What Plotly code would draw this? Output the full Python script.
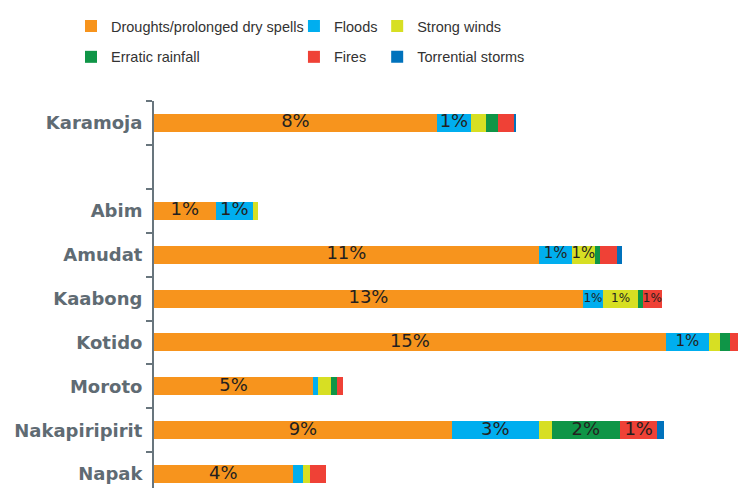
import numpy as np
import plotly.graph_objs as go

districts = ["Karamoja", " ", "Abim", "Amudat", "Kaabong", "Kotido", "Moroto", "Nakapiripirit", "Napak"]

droughts = [8.29, 0, 1.81, 11.28, 12.57, 15.00, 4.66, 8.73, 4.06]
floods = [1.00, 0, 1.09, 0.98, 0.59, 1.26, 0.16, 2.55, 0.32]
winds = [0.44, 0, 0.14, 0.65, 1.03, 0.32, 0.38, 0.37, 0.18]
erratic = [0.36, 0, 0, 0.16, 0.13, 0.30, 0.16, 2.01, 0]
fires = [0.45, 0, 0, 0.49, 0.57, 0.60, 0.19, 1.09, 0.49]
storms = [0.08, 0, 0, 0.17, 0, 0.10, 0, 0.19, 0]

droughts_lbl = ["8%", "", "1%", "11%", "13%", "15%", "5%", "9%", "4%"]
floods_lbl = ["1%", "", "1%", "1%", "1%", "1%", "", "3%", ""]
winds_lbl = ["", "", "", "1%", "1%", "", "", "", ""]
erratic_lbl = ["", "", "", "", "", "", "", "2%", ""]
fires_lbl = ["", "", "", "", "1%", "", "", "1%", ""]
storms_lbl = [""] * 9

series = [
    ("Droughts/prolonged dry spells", droughts, droughts_lbl, "#F7941D", "legend"),
    ("Floods", floods, floods_lbl, "#00AEEF", "legend2"),
    ("Strong winds", winds, winds_lbl, "#D7DF23", "legend3"),
    ("Erratic rainfall", erratic, erratic_lbl, "#0F9547", "legend"),
    ("Fires", fires, fires_lbl, "#EF4136", "legend2"),
    ("Torrential storms", storms, storms_lbl, "#0072BC", "legend3"),
]

# label sizes: smaller where the segment is narrow
small = {("Floods", "Amudat"): 15, ("Strong winds", "Amudat"): 15,
         ("Floods", "Kotido"): 15, ("Floods", "Kaabong"): 12,
         ("Strong winds", "Kaabong"): 12, ("Fires", "Kaabong"): 12}

axis_grey = "#68757d"

traces = []
labels = []
base = np.zeros(len(districts))
for name, vals, lbl, color, leg in series:
    vals = np.array(vals, dtype=float)
    traces.append(go.Bar(
        y=districts, x=vals, name=name, orientation="h",
        marker=dict(color=color, line=dict(width=0)),
        width=0.41, legend=leg, legendgroup=name,
    ))
    sizes = [small.get((name, d), 18) for d in districts]
    labels.append(go.Scatter(
        y=districts, x=base + vals / 2, text=lbl, mode="text",
        textfont=dict(family="DejaVu Sans", size=sizes, color="#231f20"),
        showlegend=False, hoverinfo="skip", cliponaxis=False,
    ))
    base = base + vals

legend_style = dict(
    orientation="v", xanchor="left", yanchor="top", y=1.235,
    font=dict(family="Liberation Sans, Arial, sans-serif", size=14.5, color="#333333"),
    bgcolor="rgba(0,0,0,0)", traceorder="grouped", tracegroupgap=9,
    itemwidth=30,
)

# page body adds an 8px offset, so the figure is 8px smaller each way
layout = go.Layout(
    width=738, height=480,
    margin=dict(l=146, r=0, t=93, b=0, autoexpand=False),
    barmode="stack",
    plot_bgcolor="white", paper_bgcolor="white",
    xaxis=dict(range=[0, 17.35], visible=False),
    yaxis=dict(
        categoryorder="array", categoryarray=districts,
        range=[8.315, -0.5], automargin=False,
        showline=True, linecolor=axis_grey, linewidth=2,
        ticks="outside", tickson="boundaries", ticklen=6, tickwidth=1.5, tickcolor=axis_grey,
        ticklabelstandoff=6,
        tickfont=dict(family="DejaVu Sans", size=18, weight="bold", color="#5f6b73"),
        showgrid=False, zeroline=False,
    ),
    legend=dict(legend_style, x=-0.1402),
    legend2=dict(legend_style, x=0.2364),
    legend3=dict(legend_style, x=0.377),
    showlegend=True,
)

fig = go.Figure(data=traces + labels, layout=layout)
fig.write_html("out.html")
